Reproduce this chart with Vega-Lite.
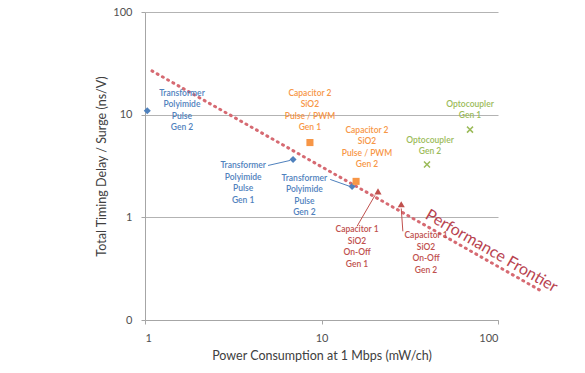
{
  "$schema": "https://vega.github.io/schema/vega-lite/v6.json",
  "width": 353,
  "height": 308,
  "autosize": "none",
  "padding": {"left": 145, "top": 12, "right": 87, "bottom": 53},
  "background": "white",
  "config": {
    "view": {"stroke": null},
    "font": "Lato",
    "axis": {
      "domainColor": "#a6a6a6",
      "tickColor": "#a6a6a6",
      "gridColor": "#b3b3b3",
      "labelColor": "#505050",
      "titleColor": "#404040",
      "labelFont": "Lato",
      "titleFont": "Lato",
      "labelFontSize": 11,
      "titleFontSize": 12.5,
      "titleFontWeight": "normal",
      "tickSize": 4
    }
  },
  "datasets": {
    "points": [
      {"series": "Transformer", "x": 1.03, "y": 10.9},
      {"series": "Transformer", "x": 6.9, "y": 3.66},
      {"series": "Transformer", "x": 14.9, "y": 2.0},
      {"series": "Capacitor 2", "x": 8.6, "y": 5.35},
      {"series": "Capacitor 2", "x": 15.7, "y": 2.24},
      {"series": "Capacitor 1", "x": 20.9, "y": 1.79},
      {"series": "Capacitor 1", "x": 28.3, "y": 1.34},
      {"series": "Optocoupler", "x": 69.4, "y": 7.15},
      {"series": "Optocoupler", "x": 39.6, "y": 3.27}
    ],
    "labels": [
      {"series": "Transformer", "x": 1.62, "y": 17.9, "text": "Transformer\nPolyimide\nPulse\nGen 2"},
      {"series": "Transformer", "x": 3.6, "y": 3.5, "text": "Transformer\nPolyimide\nPulse\nGen 1"},
      {"series": "Transformer", "x": 8.0, "y": 2.67, "text": "Transformer\nPolyimide\nPulse\nGen 2"},
      {"series": "Capacitor 2", "x": 8.6, "y": 17.9, "text": "Capacitor 2\nSiO2\nPulse / PWM\nGen 1"},
      {"series": "Capacitor 2", "x": 18.1, "y": 7.82, "text": "Capacitor 2\nSiO2\nPulse / PWM\nGen 2"},
      {"series": "Capacitor 1", "x": 15.9, "y": 0.836, "text": "Capacitor 1\nSiO2\nOn-Off\nGen 1"},
      {"series": "Capacitor 1", "x": 39.1, "y": 0.731, "text": "Capacitor 1\nSiO2\nOn-Off\nGen 2"},
      {"series": "Optocoupler", "x": 69.4, "y": 14.0, "text": "Optocoupler\nGen 1"},
      {"series": "Optocoupler", "x": 41.2, "y": 6.25, "text": "Optocoupler\nGen 2"}
    ],
    "leaders": [
      {"series": "Transformer", "x": 4.98, "y": 3.2, "x2": 6.63, "y2": 3.58},
      {"series": "Transformer", "x": 11.2, "y": 2.34, "x2": 14.5, "y2": 2.0},
      {"series": "Capacitor 1", "x": 15.9, "y": 0.818, "x2": 20.1, "y2": 1.64},
      {"series": "Capacitor 1", "x": 28.9, "y": 0.731, "x2": 28.3, "y2": 1.22}
    ],
    "frontier": [
      {"x": 1.095, "y": 26.7},
      {"x": 173, "y": 0.195}
    ],
    "frontierLabel": [
      {"x": 92, "y": 0.47, "text": "Performance Frontier"}
    ]
  },
  "encoding": {
    "x": {
      "field": "x", "type": "quantitative",
      "scale": {"type": "log", "domain": [1, 100], "nice": false},
      "axis": {"values": [1, 10, 100], "grid": false, "title": "Power Consumption at 1 Mbps (mW/ch)", "labelPadding": 8, "titlePadding": 6, "format": "d"}
    },
    "y": {
      "field": "y", "type": "quantitative",
      "scale": {"type": "log", "domain": [0.1, 100], "nice": false},
      "axis": {"values": [0.1, 1, 10, 100], "grid": true, "title": "Total Timing Delay / Surge (ns/V)", "labelPadding": 9, "titlePadding": 4, "format": ".0f"}
    }
  },
  "layer": [
    {
      "data": {"name": "frontier"},
      "mark": {"type": "line", "clip": false, "color": "#d66a72", "strokeWidth": 3, "strokeDash": [1, 5], "strokeCap": "round"},
      "encoding": {}
    },
    {
      "data": {"name": "leaders"},
      "mark": {"type": "rule", "strokeWidth": 1},
      "encoding": {
        "x2": {"field": "x2"},
        "y2": {"field": "y2"},
        "color": {"field": "series", "type": "nominal", "legend": null,
          "scale": {"domain": ["Transformer", "Capacitor 2", "Capacitor 1", "Optocoupler"], "range": ["#4f81bd", "#f79646", "#c0504d", "#9bbb59"]}}
      }
    },
    {
      "data": {"name": "points"},
      "mark": {"type": "point", "filled": true, "opacity": 1, "size": 50},
      "encoding": {
        "color": {"field": "series", "type": "nominal", "legend": null,
          "scale": {"domain": ["Transformer", "Capacitor 2", "Capacitor 1", "Optocoupler"], "range": ["#4f81bd", "#f79646", "#c0504d", "#9bbb59"]}},
        "shape": {"field": "series", "type": "nominal", "legend": null,
          "scale": {"domain": ["Transformer", "Capacitor 2", "Capacitor 1", "Optocoupler"],
            "range": ["diamond", "square", "triangle-up", "M-1,-0.7L-0.7,-1L0,-0.3L0.7,-1L1,-0.7L0.3,0L1,0.7L0.7,1L0,0.3L-0.7,1L-1,0.7L-0.3,0Z"]}}
      }
    },
    {
      "data": {"name": "labels"},
      "mark": {"type": "text", "align": "center", "baseline": "top", "lineBreak": "\n", "lineHeight": 11.5, "fontSize": 8.5, "fontWeight": 600, "clip": false},
      "encoding": {
        "text": {"field": "text"},
        "color": {"field": "series", "type": "nominal", "legend": null,
          "scale": {"domain": ["Transformer", "Capacitor 2", "Capacitor 1", "Optocoupler"], "range": ["#3d6fb0", "#f28a3c", "#c0404d", "#9bbb59"]}}
      }
    },
    {
      "data": {"name": "frontierLabel"},
      "mark": {"type": "text", "angle": 30, "align": "center", "baseline": "middle", "fontSize": 16, "color": "#b8434f", "clip": false},
      "encoding": {"text": {"field": "text"}}
    }
  ]
}
